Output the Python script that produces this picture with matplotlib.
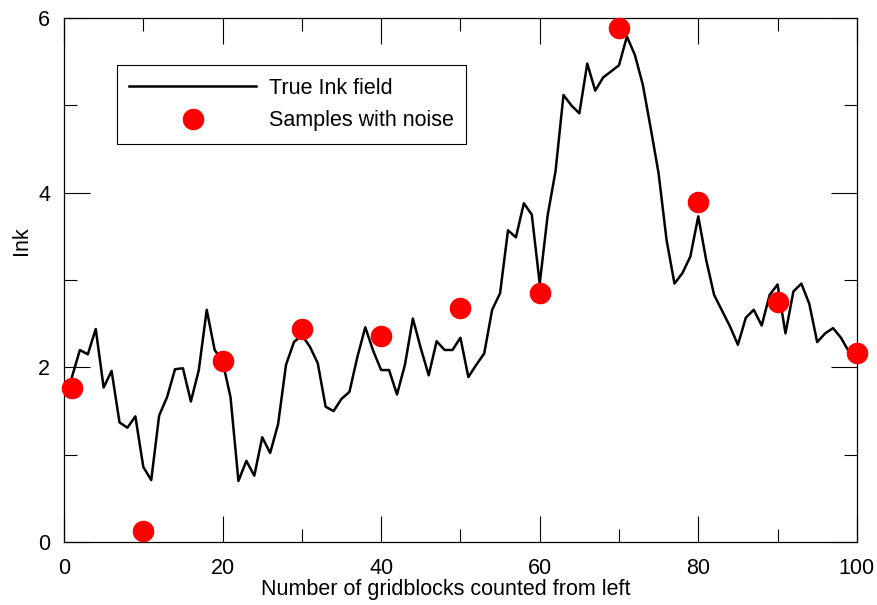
import numpy as np
import matplotlib
matplotlib.use("Agg")
import matplotlib.pyplot as plt

plt.rcParams['font.family'] = ['Liberation Sans', 'DejaVu Sans']

# true field, one value per gridblock (1..100)
x_true = np.arange(1, 101)
ink_true = [1.89, 2.20, 2.15, 2.44, 1.77, 1.96, 1.37, 1.31, 1.44, 0.86,
            0.71, 1.45, 1.66, 1.98, 1.99, 1.61, 1.97, 2.66, 2.20, 2.07,
            1.66, 0.70, 0.93, 0.76, 1.20, 1.02, 1.35, 2.03, 2.29, 2.37,
            2.24, 2.05, 1.55, 1.50, 1.64, 1.72, 2.12, 2.46, 2.19, 1.97,
            1.97, 1.69, 2.03, 2.56, 2.22, 1.91, 2.30, 2.20, 2.20, 2.34,
            1.89, 2.03, 2.16, 2.66, 2.85, 3.57, 3.49, 3.88, 3.75, 2.96,
            3.74, 4.25, 5.12, 5.00, 4.91, 5.48, 5.17, 5.32, 5.39, 5.46,
            5.79, 5.58, 5.24, 4.74, 4.22, 3.46, 2.96, 3.08, 3.27, 3.73,
            3.23, 2.83, 2.65, 2.47, 2.26, 2.57, 2.66, 2.48, 2.83, 2.95,
            2.39, 2.87, 2.96, 2.73, 2.29, 2.39, 2.45, 2.34, 2.18, 2.16]

# noisy samples
x_samp = [1, 10, 20, 30, 40, 50, 60, 70, 80, 90, 100]
ink_samp = [1.76, 0.13, 2.07, 2.44, 2.36, 2.68, 2.85, 5.89, 3.90, 2.75, 2.16]

fs = 15.5

fig = plt.figure(figsize=(8.77, 6.05), dpi=100)
ax = fig.add_axes([0.073, 0.104, 0.904, 0.866])

ax.plot(x_true, ink_true, color='black', lw=1.8, label='True Ink field')
ax.plot(x_samp, ink_samp, 'o', color='red', ms=14.5, label='Samples with noise',
        clip_on=False, zorder=3)

ax.set_xlim(0, 100)
ax.set_ylim(0, 6)
ax.set_xticks([0, 20, 40, 60, 80, 100])
ax.set_xticks([10, 30, 50, 70, 90], minor=True)
ax.set_yticks([0, 2, 4, 6])
ax.set_yticks([1, 3, 5], minor=True)
ax.tick_params(which='both', direction='in', top=True, right=True,
               labelsize=fs, width=0.8)
ax.tick_params(axis='x', which='major', pad=11.5)
ax.tick_params(axis='y', which='major', pad=10)
ax.tick_params(which='major', length=18.5)
ax.tick_params(which='minor', length=9.4)
for s in ax.spines.values():
    s.set_linewidth(0.9)

ax.set_xlabel('Number of gridblocks counted from left', fontsize=fs,
              labelpad=0, x=0.482)
ax.set_ylabel('Ink', fontsize=fs, labelpad=4.5, y=0.576)

leg = ax.legend(loc='upper left', bbox_to_anchor=(0.067, 0.910), fontsize=fs,
                handlelength=5.9, handletextpad=0.6, borderpad=0.57,
                labelspacing=0.55, fancybox=False, framealpha=1,
                edgecolor='black', borderaxespad=0)
leg.get_frame().set_linewidth(0.8)

fig.savefig('out.png', dpi=100)
